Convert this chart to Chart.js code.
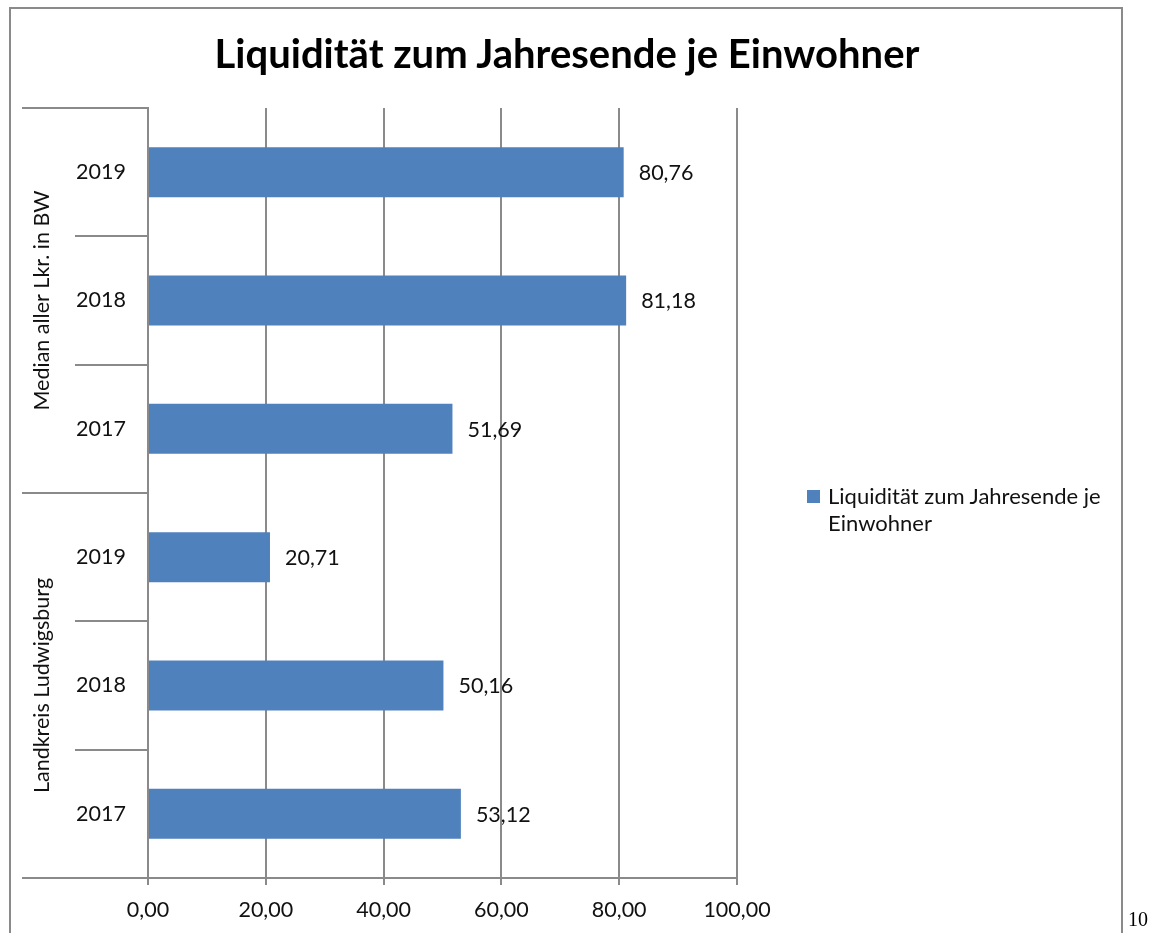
<!DOCTYPE html>
<html>
<head>
<meta charset="utf-8">
<script src="https://cdn.jsdelivr.net/npm/chart.js@4.4.0/dist/chart.umd.min.js"></script>
<style>
  html, body { margin: 0; padding: 0; background: #fff; overflow: hidden; }
  #wrap { position: relative; width: 1154px; height: 933px; }
  #frame { position: absolute; left: 9px; top: 7px; width: 1114px; height: 1000px; border: 2px solid #8a8a8a; box-sizing: border-box; }
  canvas { position: absolute; left: 0; top: 0; }
  #title { position: absolute; left: 10px; width: 1114px; top: 28px; text-align: center; font-family: Lato, sans-serif; font-weight: bold; font-size: 40px; line-height: 50px; color: #000; }
  #legend { position: absolute; left: 807px; top: 482px; width: 340px; font-family: Lato, sans-serif; font-size: 22px; line-height: 27px; color: #111; }
  #legend .box { position: absolute; left: 0; top: 8px; width: 13px; height: 13px; background: #4f81bd; }
  #legend .txt { margin-left: 21px; }
  #page { position: absolute; left: 1128px; top: 908px; font-family: "Liberation Serif", serif; font-size: 20px; color: #000; }
</style>
</head>
<body>
<div id="wrap">
  <div id="frame"></div>
  <canvas id="chart" width="1154" height="933"></canvas>
  <div id="title">Liquidität zum Jahresende je Einwohner</div>
  <div id="legend"><span class="box"></span><div class="txt">Liquidität zum Jahresende je<br>Einwohner</div></div>
  <div id="page">10</div>
</div>
<script>
// categories (top to bottom) and their groups
const years = ['2019', '2018', '2017', '2019', '2018', '2017'];
const groups = ['Median aller Lkr. in BW', 'Landkreis Ludwigsburg'];
const groupSize = 3;
const values = [80.76, 81.18, 51.69, 20.71, 50.16, 53.12];
const xTicks = [0, 20, 40, 60, 80, 100];

const gridColor = '#8a8a8a';
const labelFont = '21.5px Lato, sans-serif';
const fmt = v => v.toFixed(2).replace('.', ',');

// draws category separators, group labels and value labels
const excelAxis = {
    id: 'excelAxis',
    afterDatasetsDraw(chart) {
        const ctx = chart.ctx;
        const y = chart.scales.y;
        const area = chart.chartArea;
        const n = years.length;
        const step = (y.getPixelForValue(1) - y.getPixelForValue(0));

        ctx.save();
        ctx.strokeStyle = gridColor;
        ctx.lineWidth = 2;
        for (let i = 0; i <= n; i++) {
            const py = Math.round(y.getPixelForValue(i) - step / 2);
            const left = (i % groupSize === 0) ? 22 : 75;
            ctx.beginPath();
            ctx.moveTo(left, py);
            ctx.lineTo(area.left, py);
            ctx.stroke();
        }

        // group labels, rotated
        ctx.fillStyle = '#111';
        ctx.font = labelFont;
        ctx.textAlign = 'center';
        ctx.textBaseline = 'middle';
        groups.forEach((g, gi) => {
            const top = y.getPixelForValue(gi * groupSize) - step / 2;
            const bottom = y.getPixelForValue(gi * groupSize + groupSize - 1) + step / 2;
            ctx.save();
            ctx.translate(42, (top + bottom) / 2);
            ctx.rotate(-Math.PI / 2);
            ctx.fillText(g, 0, 0);
            ctx.restore();
        });

        // value labels
        ctx.textAlign = 'left';
        const meta = chart.getDatasetMeta(0);
        meta.data.forEach((bar, i) => {
            ctx.fillText(fmt(values[i]), bar.x + 15, bar.y + 1);
        });
        ctx.restore();
    }
};

new Chart(document.getElementById('chart'), {
    type: 'bar',
    data: {
        labels: years,
        datasets: [{
            label: 'Liquidität zum Jahresende je Einwohner',
            data: values,
            backgroundColor: '#4f81bd',
            barPercentage: 0.39,
            categoryPercentage: 1
        }]
    },
    options: {
        indexAxis: 'y',
        responsive: false,
        animation: false,
        layout: {
            padding: { left: 10, right: 417, top: 108, bottom: 0 }
        },
        plugins: {
            legend: { display: false },
            tooltip: { enabled: false },
            title: { display: false }
        },
        scales: {
            x: {
                min: 0,
                max: 100,
                afterBuildTicks: axis => { axis.ticks = xTicks.map(v => ({ value: v })); },
                afterFit: axis => { axis.height = 55; },
                ticks: {
                    color: '#111',
                    font: { family: 'Lato', size: 21.5 },
                    padding: 12,
                    callback: v => fmt(v)
                },
                grid: {
                    color: gridColor,
                    lineWidth: 2,
                    tickLength: 7,
                    drawTicks: true
                },
                border: { color: gridColor, width: 2 }
            },
            y: {
                afterFit: axis => { axis.width = 138; },
                ticks: {
                    color: '#111',
                    font: { family: 'Lato', size: 21.5 },
                    padding: 22
                },
                grid: { display: false, drawTicks: false },
                border: { color: gridColor, width: 2 }
            }
        }
    },
    plugins: [excelAxis]
});
</script>
</body>
</html>
